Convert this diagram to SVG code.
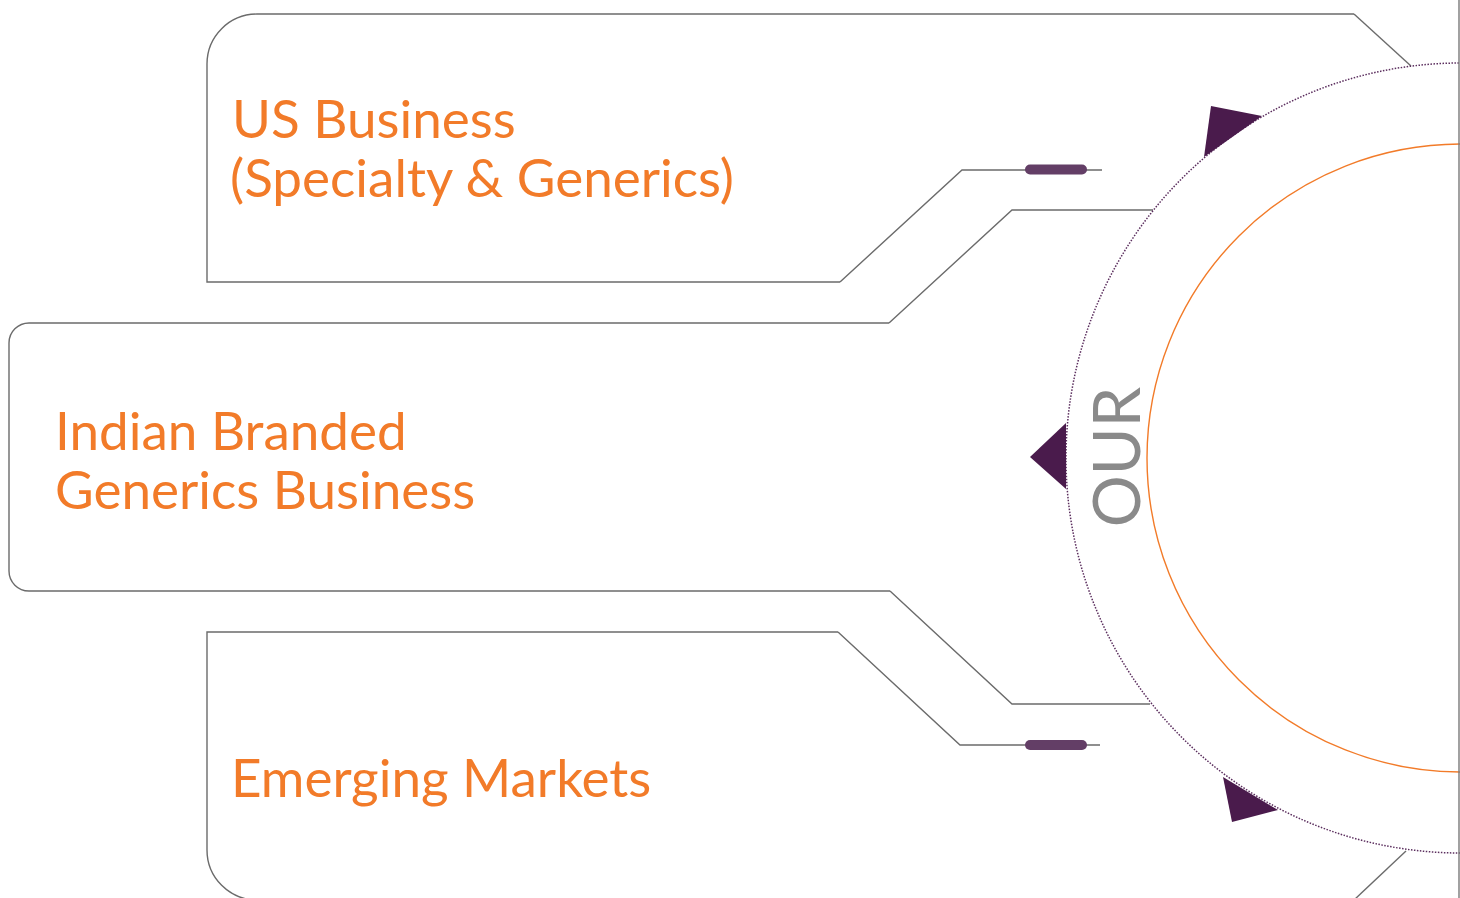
<svg xmlns="http://www.w3.org/2000/svg" width="1460" height="898" viewBox="0 0 1460 898">
<style>
.edge{fill:none;stroke:#6b6b6b;stroke-width:1.4}
.lbl{font-family:Lato,"Open Sans",sans-serif;fill:#f27b29;font-size:53px}
.pill{fill:#633e66}
.tri{fill:#4a1b4c}
</style>
<rect width="1460" height="898" fill="#ffffff"/>
<g id="connectors">
<path class="edge" d="M1102 170 L962 170 L840 282"/>
<path class="edge" d="M1153 210 L1012 210 L889 323"/>
<path class="edge" d="M1150 704 L1012 704 L890 591"/>
<path class="edge" d="M1100 745 L960 745 L838 632"/>
<path class="edge" d="M1354 14 L1411 66"/>
<path class="edge" d="M1406 851 L1354 900"/>
<rect class="pill" x="1025" y="164.5" width="62" height="10" rx="5"/>
<rect class="pill" x="1025" y="740" width="62" height="10" rx="5"/>
</g>
<g id="node-us">
<path class="edge" d="M1354 14 L257 14 A50 50 0 0 0 207 64 L207 282 L840 282"/>
<text class="lbl" x="232" y="138">US Business</text>
<text class="lbl" x="230" y="197">(Specialty &amp; Generics)</text>
</g>
<g id="node-india">
<path class="edge" d="M889 323 L29 323 A20 20 0 0 0 9 343 L9 571 A20 20 0 0 0 29 591 L890 591"/>
<text class="lbl" x="55" y="450">Indian Branded</text>
<text class="lbl" x="55" y="509">Generics Business</text>
</g>
<g id="node-em">
<path class="edge" d="M838 632 L207 632 L207 850 A50 50 0 0 0 257 900"/>
<text class="lbl" x="231" y="797">Emerging Markets</text>
</g>
<g id="node-hub">
<circle cx="1461" cy="458" r="395" fill="none" stroke="#5b2e5e" stroke-width="1.5" stroke-dasharray="1.5 1.5"/>
<circle cx="1461" cy="458" r="314" fill="none" stroke="#f27b29" stroke-width="1.4"/>
<polygon class="tri" points="1211,106 1262,116 1204,157"/>
<polygon class="tri" points="1030,457 1066,423 1066,489"/>
<polygon class="tri" points="1223,777 1278,810 1232,822"/>
<text transform="translate(1140 457) rotate(-90)" text-anchor="middle" font-family="Lato,'Open Sans',sans-serif" font-size="65" fill="#8a8a8a">OUR</text>
<line x1="1459" y1="0" x2="1459" y2="898" stroke="#7a7a7a" stroke-width="1.4"/>
</g>
</svg>
